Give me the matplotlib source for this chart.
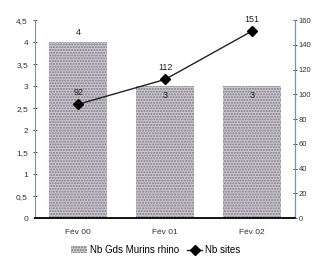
import numpy as np
import matplotlib
matplotlib.use('Agg')
import matplotlib.pyplot as plt
from matplotlib.ticker import FuncFormatter

categories = ['Fév 00', 'Fév 01', 'Fév 02']
nb_murins = [4, 3, 3]
nb_sites = [92, 112, 151]

plt.rcParams['font.family'] = ['Liberation Sans', 'DejaVu Sans']
plt.rcParams['hatch.linewidth'] = 1.0

fig = plt.figure(figsize=(3.12, 2.64), dpi=100)
fig.patch.set_facecolor('white')
ax = fig.add_axes([0.112, 0.174, 0.834, 0.750])
ax2 = ax.twinx()

x = np.arange(len(categories))
bars = ax.bar(x, nb_murins, width=0.67, color='#cdc9d0', hatch='......',
              edgecolor='#7d7884', linewidth=0, label='Nb Gds Murins rhino', zorder=1)
ax.set_xlim(-0.5, 2.5)
ax.set_ylim(0, 4.5)
ax.set_yticks(np.arange(0, 4.51, 0.5))
ax.yaxis.set_major_formatter(FuncFormatter(lambda v, p: f'{v:g}'.replace('.', ',')))
ax.set_xticks(x)
ax.set_xticklabels(categories)

for xi, v in zip(x, nb_murins):
    if v >= 4:
        ax.text(xi, v + 0.12, str(v), ha='center', va='bottom', fontsize=6.5, color='#222222')
    else:
        ax.text(xi, v - 0.12, str(v), ha='center', va='top', fontsize=6.5, color='#222222')

line, = ax2.plot(x, nb_sites, color='#222222', lw=1.0, marker='D', markersize=5,
                 markerfacecolor='black', markeredgecolor='black', label='Nb sites', zorder=3)
ax2.set_ylim(0, 160)
ax2.set_yticks(np.arange(0, 161, 20))
for xi, v in zip(x, nb_sites):
    ax2.text(xi, v + 6, str(v), ha='center', va='bottom', fontsize=6.5, color='#222222')

for a in (ax, ax2):
    a.spines['top'].set_visible(False)
    a.spines['left'].set_color('#5b9bd5')
    a.spines['right'].set_color('#5b9bd5')
    a.spines['bottom'].set_color('#111111')
    a.spines['bottom'].set_linewidth(1.2)
    a.tick_params(labelsize=6, colors='#333333', length=3, direction='inout', width=0.6)
ax.tick_params(axis='x', length=0, pad=8)
ax2.tick_params(axis='y', labelsize=5.5, pad=1)
ax2.spines['left'].set_visible(False)
ax.set_zorder(ax2.get_zorder() - 1)
ax2.patch.set_visible(False)

fig.legend([bars, line], ['Nb Gds Murins rhino', 'Nb sites'], loc='lower center',
           bbox_to_anchor=(0.5, 0.0), ncol=2, frameon=False, fontsize=7,
           handlelength=1.6, handletextpad=0.3, columnspacing=0.8)

fig.savefig('out.png', dpi=100, facecolor='white')
